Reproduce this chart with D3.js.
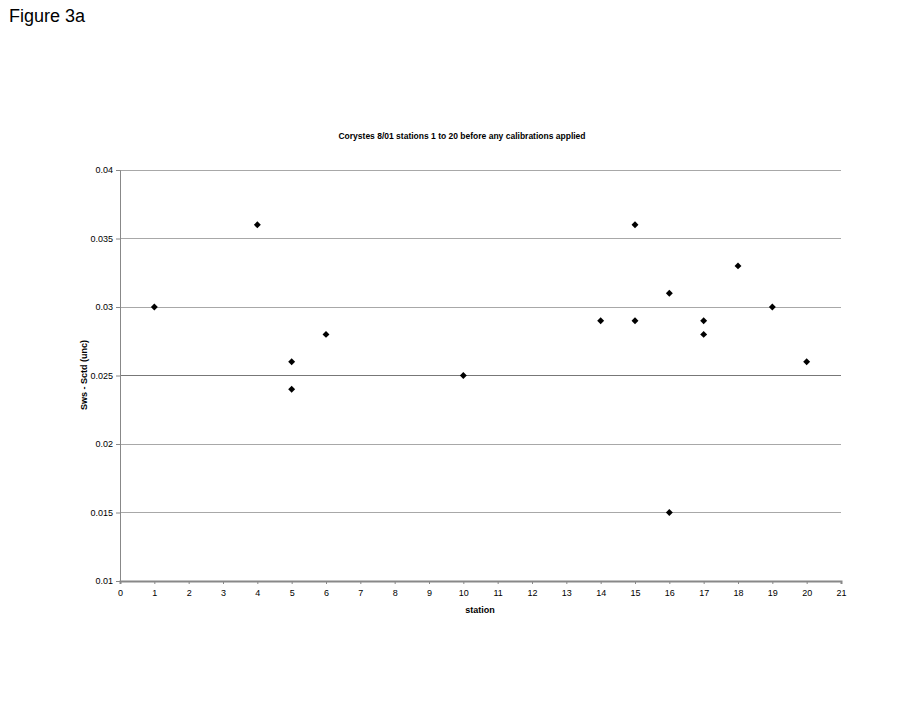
<!DOCTYPE html>
<html><head><meta charset="utf-8">
<script src="https://cdn.jsdelivr.net/npm/d3@7"></script>
<style>body{margin:0;background:#fff}svg{display:block}text{font-family:"Liberation Sans",Arial,sans-serif}</style>
</head><body>
<script>
const stations = [1,4,5,5,6,10,14,15,15,16,16,17,17,18,19,20];
const diffs = [0.030,0.036,0.026,0.024,0.028,0.025,0.029,0.036,0.029,0.031,0.015,0.029,0.028,0.033,0.030,0.026];
const xTicks = d3.range(0,22);
const yTicks = [0.01,0.015,0.02,0.025,0.03,0.035,0.04];
const title = "Corystes 8/01 stations 1 to 20 before any calibrations applied";

const W=924,H=714;
const svg=d3.select("body").append("svg").attr("width",W).attr("height",H);
svg.append("text").attr("x",9).attr("y",22).attr("font-size",18).text("Figure 3a");

const x=d3.scaleLinear().domain([0,21]).range([120,841]);
const y=d3.scaleLinear().domain([0.01,0.04]).range([581,170]);

svg.append("text").attr("x",462).attr("y",139).attr("text-anchor","middle").attr("font-size",8.5).attr("font-weight","bold").text(title);

// grid
svg.append("g").selectAll("line").data(yTicks.slice(1)).join("line")
  .attr("x1",120).attr("x2",841).attr("y1",d=>y(d)).attr("y2",d=>y(d))
  .attr("stroke",d=>Math.abs(d-0.025)<1e-9?"#777":"#a8a8a8").attr("stroke-width",1).attr("shape-rendering","crispEdges");

// y axis
const ya=svg.append("g").attr("transform","translate(120,0)")
  .call(d3.axisLeft(y).tickValues(yTicks).tickFormat(d=>String(+d.toFixed(3))).tickSize(4).tickPadding(3));
ya.select(".domain").attr("stroke","#888");
ya.selectAll(".tick line").attr("stroke","#888");
ya.selectAll("text").attr("font-size",9).attr("fill","#000").style("font-family","Liberation Sans, Arial, sans-serif");

// x axis
const xa=svg.append("g").attr("transform","translate(0,581)")
  .call(d3.axisBottom(x).tickValues(xTicks).tickFormat(d3.format("d")).tickSize(3).tickPadding(6));
xa.select(".domain").attr("stroke","#888").attr("stroke-width",2);
xa.selectAll(".tick line").attr("stroke","#888");
xa.selectAll("text").attr("font-size",9).attr("fill","#000").style("font-family","Liberation Sans, Arial, sans-serif");

svg.append("text").attr("x",480).attr("y",613).attr("text-anchor","middle").attr("font-size",9).attr("font-weight","bold").text("station");
svg.append("text").attr("transform","translate(87,375) rotate(-90)").attr("text-anchor","middle").attr("font-size",9).attr("font-weight","bold").text("Sws - Sctd (unc)");

const sym=d3.symbol().type(d3.symbolSquare).size(24);
svg.append("g").selectAll("path").data(stations.map((s,i)=>[s,diffs[i]])).join("path")
  .attr("d",sym).attr("transform",d=>`translate(${x(d[0])},${y(d[1])}) rotate(45)`).attr("fill","#000");
</script>
</body></html>
